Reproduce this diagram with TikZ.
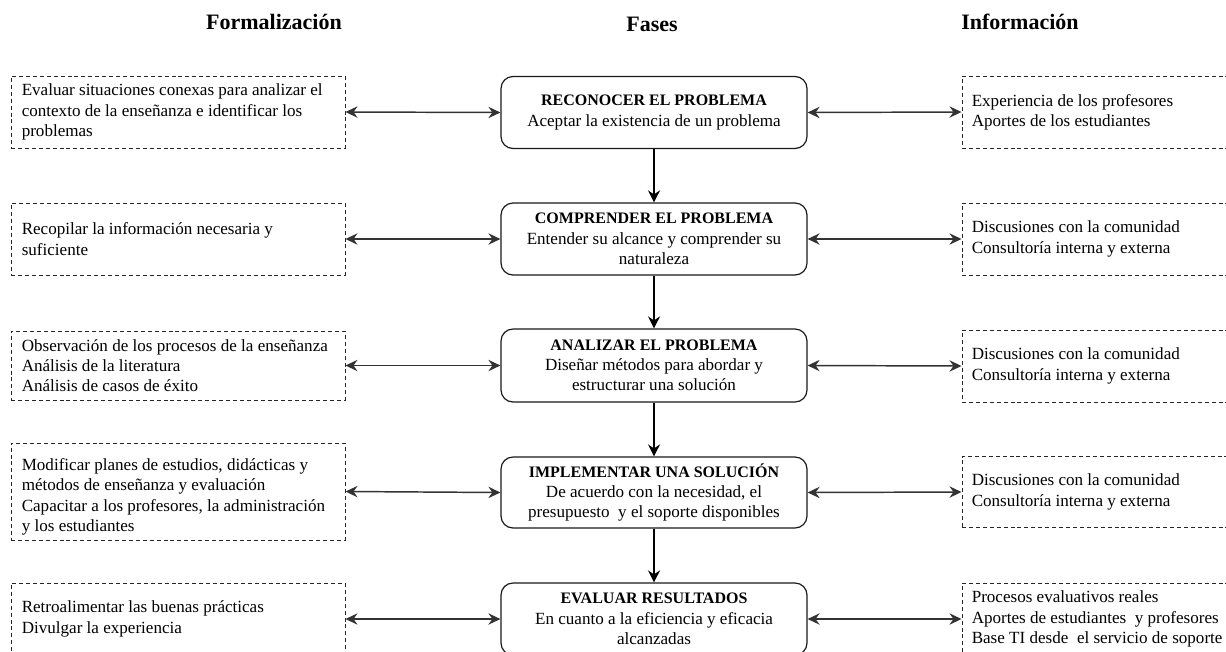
\documentclass[tikz,border=0pt]{standalone}
\usepackage{fontspec}
\setmainfont{Liberation Serif}
\usetikzlibrary{arrows.meta}
\definecolor{linegray}{HTML}{333333}
\tikzset{
  body/.style={font=\fontsize{12.8}{15.2}\selectfont},
  title/.style={font=\fontsize{16.5}{20}\selectfont\bfseries, anchor=base},
  phase/.style={body, draw=black!90, line width=0.9pt, rounded corners=9pt,
    minimum width=229.5pt, minimum height=54pt, align=center, inner sep=0pt},
  dashbox/.style={draw=black!85, dashed, dash pattern=on 3pt off 2.2pt, line width=0.75pt,
    inner sep=0pt, minimum height=54pt},
  formbox/.style={dashbox, minimum width=250.5pt},
  infobox/.style={dashbox, minimum width=208.5pt},
  boxtext/.style={body, anchor=west, align=left, inner sep=0pt},
  harr/.style={linegray, line width=1.1pt, {Stealth[length=9pt,width=8.5pt,inset=3pt]}-{Stealth[length=9pt,width=8.5pt,inset=3pt]}},
  varr/.style={black, line width=1.5pt, -{Stealth[length=9pt,width=9pt,inset=3pt]}},
}
\newcommand{\ph}[2]{{\fontsize{12}{15.2}\selectfont\bfseries #1}\\#2}
\begin{document}
\begin{tikzpicture}[x=0.75pt, y=-0.75pt]
\useasboundingbox (0,0) rectangle (1226,651);
\fill[white] (0,0) rectangle (1226,651);
\clip (0,0) rectangle (1226,651);

% titles
\node[title] (tf) at (274,29) {Formalización};
\node[title] (tp) at (652,31) {Fases};
\node[title] (ti) at (1020,29) {Información};

% phases
\node[phase] (c1) at (654,112.5) {\ph{RECONOCER EL PROBLEMA}{Aceptar la existencia de un problema}};
\node[phase] (c2) at (654,239) {\ph{COMPRENDER EL PROBLEMA}{Entender su alcance y comprender su\\naturaleza}};
\node[phase, minimum height=54.75pt] (c3) at (654,365.5) {\ph{ANALIZAR EL PROBLEMA}{Diseñar métodos para abordar y\\estructurar una solución}};
\node[phase, minimum height=53.25pt] (c4) at (654,492.5) {\ph{IMPLEMENTAR UNA SOLUCIÓN}{De acuerdo con la necesidad, el\\presupuesto\ \ y el soporte disponibles}};
\node[phase] (c5) at (654,619) {\ph{EVALUAR RESULTADOS}{En cuanto a la eficiencia y eficacia\\alcanzadas}};

% formalization boxes
\node[formbox] (l1) at (178,112) {};
\node[formbox] (l2) at (178,239) {};
\node[formbox, minimum height=51.75pt] (l3) at (178,365.5) {};
\node[formbox, minimum height=72.75pt] (l4) at (178,491.5) {};
\node[formbox] (l5) at (178,619) {};
\node[boxtext] (lt1) at ([xshift=8.25pt]l1.west) {Evaluar situaciones conexas para analizar el\\contexto de la enseñanza e identificar los\\problemas};
\node[boxtext] (lt2) at ([xshift=8.25pt]l2.west) {Recopilar la información necesaria y\\suficiente};
\node[boxtext] (lt3) at ([xshift=8.25pt]l3.west) {Observación de los procesos de la enseñanza\\Análisis de la literatura\\Análisis de casos de éxito};
\node[boxtext] (lt4) at ([xshift=8.25pt,yshift=-4pt]l4.west) {Modificar planes de estudios, didácticas y\\métodos de enseñanza y evaluación\\Capacitar a los profesores, la administración\\y los estudiantes};
\node[boxtext] (lt5) at ([xshift=8.25pt]l5.west) {Retroalimentar las buenas prácticas\\Divulgar la experiencia};

% information boxes
\node[infobox] (r1) at (1101,112) {};
\node[infobox] (r2) at (1101,239) {};
\node[infobox] (r3) at (1101,366) {};
\node[infobox, minimum height=53.25pt] (r4) at (1101,492) {};
\node[infobox] (r5) at (1101,619) {};
\node[boxtext] (rt1) at ([xshift=7.5pt]r1.west) {Experiencia de los profesores\\Aportes de los estudiantes};
\node[boxtext] (rt2) at ([xshift=7.5pt]r2.west) {Discusiones con la comunidad\\Consultoría interna y externa};
\node[boxtext] (rt3) at ([xshift=7.5pt]r3.west) {Discusiones con la comunidad\\Consultoría interna y externa};
\node[boxtext] (rt4) at ([xshift=7.5pt]r4.west) {Discusiones con la comunidad\\Consultoría interna y externa};
\node[boxtext] (rt5) at ([xshift=7.5pt]r5.west) {Procesos evaluativos reales\\Aportes de estudiantes\ \ y profesores\\Base TI desde\ \ el servicio de soporte};

% vertical arrows
\draw[varr] (c1) -- (c2);
\draw[varr] (c2) -- (c3);
\draw[varr] (c3) -- (c4);
\draw[varr] (c4) -- (c5);

% horizontal arrows
\foreach \i in {1,...,5}{
  \draw[harr] (l\i.east) -- (c\i.west);
  \draw[harr] (c\i.east) -- (r\i.west);
}
\end{tikzpicture}
\end{document}
